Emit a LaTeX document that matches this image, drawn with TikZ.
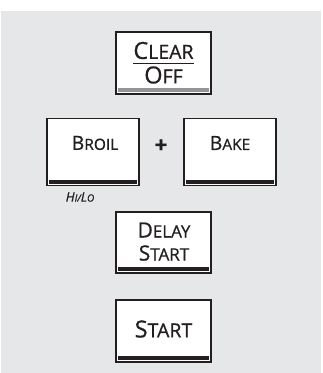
\documentclass[tikz,border=0pt]{standalone}
\usepackage{fontspec}
\setmainfont{Open Sans}[FakeBold=0.8]
\definecolor{panelgray}{HTML}{E6E7E8}
\definecolor{keyink}{HTML}{231F20}
\definecolor{bargray}{HTML}{939598}
% fake small caps: big size, small size, first letter, rest
\newcommand\keycap[4]{{\fontsize{#1}{#1}\selectfont#3}{\fontsize{#2}{#2}\selectfont#4}}
\tikzset{
  keybox/.style={draw=keyink,line width=1.4pt,fill=white,inner sep=0pt,minimum width=95pt,minimum height=62pt},
  keytext/.style={inner sep=0pt,text=keyink},
  keybar/.style={fill=keyink},
}
\begin{document}
\begin{tikzpicture}[x=1pt,y=-1pt]
\useasboundingbox (0,0) rectangle (323,373);
\fill[panelgray] (1,11) rectangle (321,373);
% keys
\node[keybox] (clear) at (163.5,63) {};
\node[keybox,minimum width=92pt,minimum height=67pt] (broil) at (93,152) {};
\node[keybox,minimum width=92pt,minimum height=67pt] (bake) at (230,152) {};
\node[keybox,minimum height=61pt] (delay) at (163.5,242.5) {};
\node[keybox] (start) at (163.5,331) {};
% bars
\fill[bargray] ([xshift=3pt,yshift=3pt]clear.south west) rectangle ([xshift=-3pt,yshift=7pt]clear.south east);
\foreach \k in {broil,bake,delay,start}
  \fill[keybar] ([xshift=3pt,yshift=2.5pt]\k.south west) rectangle ([xshift=-3pt,yshift=6.5pt]\k.south east);
% labels
\node[keytext] (cleartop) at (163.5,50.5) {\keycap{23.5pt}{19.5pt}{C}{LEAR}};
\node[keytext] (clearbot) at (163.5,75) {\keycap{23.5pt}{19.5pt}{O}{FF}};
\draw[keyink,line width=1.6pt] ([yshift=-4pt]cleartop.south west) -- ([yshift=-4pt]cleartop.south east);
\node[keytext] (broiltext) at (95,143) {\keycap{19.5pt}{15.5pt}{B}{ROIL}};
\node[keytext] (baketext) at (230,143) {\keycap{19.5pt}{15.5pt}{B}{AKE}};
\node[keytext,font=\bfseries\fontsize{22pt}{22pt}\selectfont] (plus) at (161,146) {+};
\node[keytext] (hilo) at (80,197) {\itshape\keycap{13pt}{10pt}{H}{I}/\keycap{13pt}{10pt}{L}{O}};
\node[keytext] (delaytop) at (164,230) {\keycap{21pt}{17pt}{D}{ELAY}};
\node[keytext] (delaybot) at (164,253) {\keycap{21pt}{17pt}{S}{TART}};
\node[keytext] (starttext) at (163.5,329) {\keycap{23.5pt}{19.5pt}{S}{TART}};
\end{tikzpicture}
\end{document}
